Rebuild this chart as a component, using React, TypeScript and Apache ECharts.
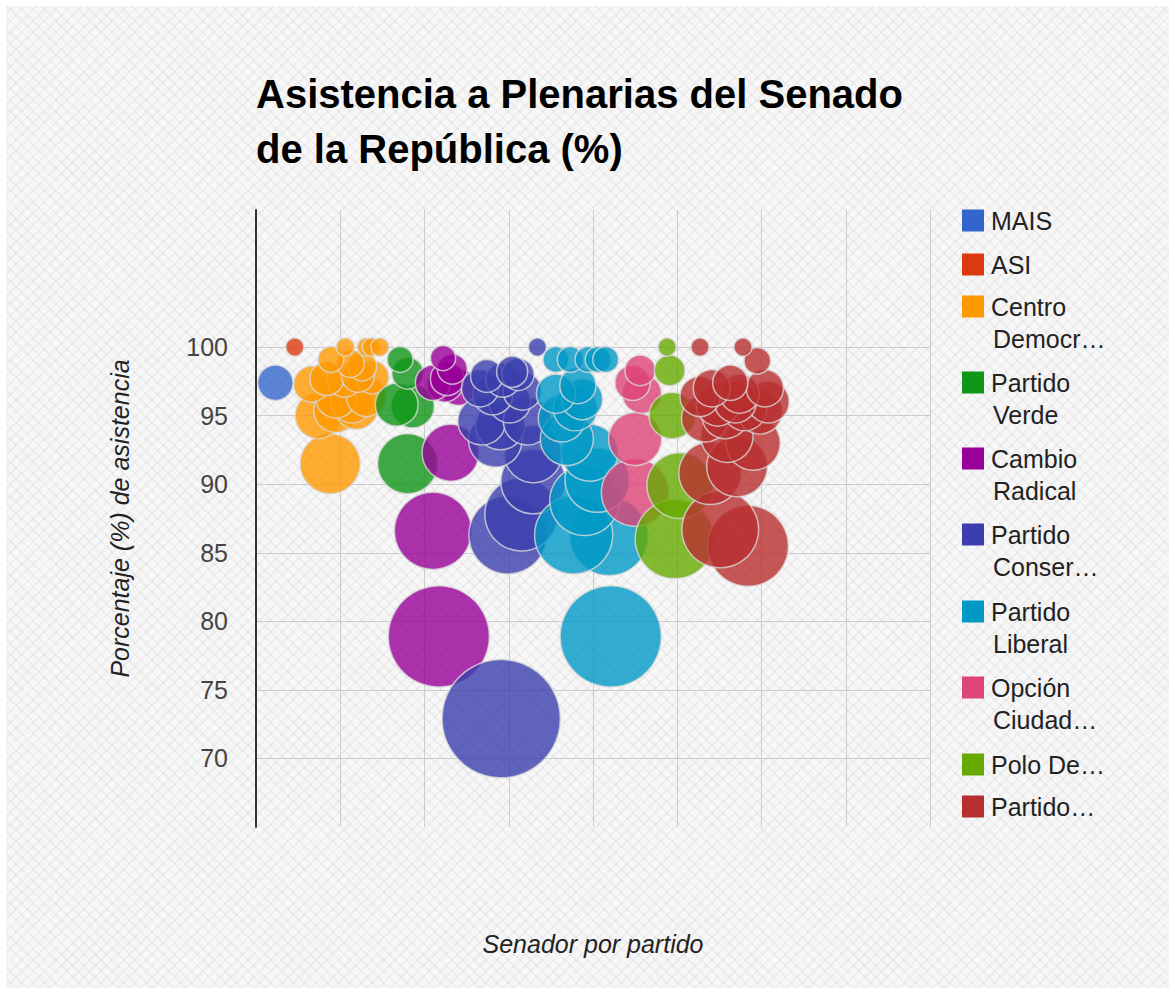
import React, { useEffect, useRef } from "react";
import * as echarts from "echarts";

const TITLE = "Asistencia a Plenarias del Senado\nde la República (%)";
const X_TITLE = "Senador por partido";
const Y_TITLE = "Porcentaje (%) de asistencia";

const PARTIES = [
  "MAIS",
  "ASI",
  "Centro Democrático",
  "Partido Verde",
  "Cambio Radical",
  "Partido Conservador",
  "Partido Liberal",
  "Opción Ciudadana",
  "Polo Democrático",
  "Partido de la U",
];

const LEGEND_LINES = [
  ["MAIS"],
  ["ASI"],
  ["Centro", "Democr…"],
  ["Partido", "Verde"],
  ["Cambio", "Radical"],
  ["Partido", "Conser…"],
  ["Partido", "Liberal"],
  ["Opción", "Ciudad…"],
  ["Polo De…"],
  ["Partido…"],
];

const COLORS = [
  "#3366cc",
  "#dc3912",
  "#ff9900",
  "#109618",
  "#990099",
  "#3b3eac",
  "#0099c6",
  "#dd4477",
  "#66aa00",
  "#b82e2e",
];

// [senator position, attendance %]
const MAIS = [[2.3, 97.4]];
const ASI = [[4.6, 100]];
const CENTRO_DEMOCRATICO = [
  [10.6, 100], [13.1, 100], [13.7, 100], [14.7, 100],
  [8.9, 99.1], [11.2, 98.8], [12.6, 98.6],
  [8.4, 97.7], [10.5, 97.6], [12.1, 97.9], [13.8, 97.8],
  [6.6, 97.3], [9.5, 96.3], [11.4, 96.0], [13.1, 96.4],
  [7.4, 95.0], [9.5, 95.4], [11.9, 95.6],
  [8.8, 91.5],
];
const PARTIDO_VERDE = [
  [17.1, 99.1], [18.0, 98.1], [16.7, 95.8], [18.6, 95.7], [18.0, 91.5],
];
const CAMBIO_RADICAL = [
  [22.2, 99.2], [23.3, 98.4], [21.0, 97.4], [22.7, 97.7], [24.0, 97.1],
  [22.4, 97.3], [23.1, 92.3], [21.0, 86.6], [21.7, 78.9],
];
const PARTIDO_CONSERVADOR = [
  [33.4, 100], [27.4, 97.9], [29.3, 97.6], [30.4, 98.2], [31.1, 98.0],
  [26.6, 97.0], [28.1, 96.5], [30.1, 96.0], [31.6, 96.8], [26.8, 94.6],
  [29.0, 94.3], [32.2, 94.6], [28.4, 93.2], [32.9, 92.2], [32.9, 90.2],
  [31.5, 87.8], [29.9, 86.3], [29.1, 72.9],
];
const PARTIDO_LIBERAL = [
  [35.6, 99.1], [37.3, 99.1], [39.4, 99.1], [40.6, 99.1], [41.5, 99.1],
  [35.6, 96.6], [38.2, 97.2], [38.7, 96.2], [36.3, 94.8], [36.9, 93.3],
  [39.6, 92.3], [40.5, 90.3], [39.0, 88.8], [41.9, 86.2], [37.7, 86.3],
  [42.1, 78.9], [37.9, 95.5],
];
const OPCION_CIUDADANA = [
  [45.6, 98.3], [44.7, 97.4], [45.8, 96.6], [45.0, 93.3], [45.0, 89.4],
];
const POLO_DEMOCRATICO = [
  [48.8, 100], [49.1, 98.3], [49.4, 95.0], [50.3, 89.9], [49.7, 86.0],
];
const PARTIDO_DE_LA_U = [
  [52.7, 100], [57.8, 100], [59.5, 99.0], [52.7, 96.4], [54.8, 95.8],
  [56.3, 97.4], [57.4, 96.6], [60.4, 97.0], [60.8, 96.0], [53.3, 94.8],
  [55.7, 95.0], [58.0, 95.5], [59.0, 93.0], [57.1, 91.3], [53.9, 90.8],
  [55.1, 86.7], [58.4, 85.5], [56.9, 96.0], [54.1, 97.0], [59.8, 95.3],
  [55.9, 93.5],
];

const SERIES_DATA = [
  MAIS, ASI, CENTRO_DEMOCRATICO, PARTIDO_VERDE, CAMBIO_RADICAL,
  PARTIDO_CONSERVADOR, PARTIDO_LIBERAL, OPCION_CIUDADANA, POLO_DEMOCRATICO,
  PARTIDO_DE_LA_U,
];

const Y_TICKS_SHOWN = [70, 75, 80, 85, 90, 95, 100];

const FONT = 'Arial, "Liberation Sans", sans-serif';

export default function App() {
  const ref = useRef<HTMLDivElement>(null);

  useEffect(() => {
    document.body.style.margin = "0";
    if (!ref.current) return;
    const chart = echarts.init(ref.current, undefined, { renderer: "svg" });

    const bubble = (v: number[]) =>
      2 * (9 + 4.22 * Math.pow(Math.max(0, 100 - v[1]), 0.75));

    const legendTops = [209, 253, 295, 371, 447, 523, 600, 676, 753, 795];

    const legends = PARTIES.map((name, i) => ({
      data: [name],
      left: 957,
      top: legendTops[i] - 6,
      orient: "vertical",
      icon: "rect",
      itemWidth: 22,
      itemHeight: 22,
      selectedMode: false,
      itemStyle: { opacity: 1, borderWidth: 0 },
      formatter: () => LEGEND_LINES[i][0],
      textStyle: {
        fontSize: 25,
        color: "#222",
        fontFamily: FONT,
        padding: [0, 0, 0, 2],
      },
    }));

    const secondLines: any[] = [];
    LEGEND_LINES.forEach((lines, i) => {
      if (lines.length > 1) {
        secondLines.push({
          type: "text",
          left: 993,
          top: legendTops[i] + 11 + 34 - 14,
          style: {
            text: lines[1],
            fontSize: 25,
            fill: "#222",
            fontFamily: FONT,
          },
        });
      }
    });

    const yLineColors = [
      "rgba(0,0,0,0)", "#cccccc", "#cccccc", "#cccccc", "#cccccc",
      "#cccccc", "#cccccc", "#cccccc", "rgba(0,0,0,0)", "rgba(0,0,0,0)",
    ];

    chart.setOption({
      animation: false,
      backgroundColor: "transparent",
      title: {
        text: TITLE,
        left: 251,
        top: 61,
        textStyle: {
          fontSize: 40,
          fontWeight: "bold",
          color: "#000",
          fontFamily: FONT,
          lineHeight: 55,
        },
      },
      legend: legends,
      graphic: secondLines,
      grid: { left: 256, right: 245, top: 210, bottom: 167, containLabel: false },
      xAxis: {
        type: "value",
        min: 0,
        max: 80,
        interval: 10,
        name: X_TITLE,
        nameLocation: "middle",
        nameGap: 104,
        nameTextStyle: {
          fontSize: 25,
          fontStyle: "italic",
          color: "#222",
          fontFamily: FONT,
        },
        axisLine: { show: false },
        axisTick: { show: false },
        axisLabel: { show: false },
        splitLine: { show: true, lineStyle: { color: "#cccccc", width: 1 } },
      },
      yAxis: {
        type: "value",
        min: 65,
        max: 110,
        interval: 5,
        name: Y_TITLE,
        nameLocation: "middle",
        nameGap: 124,
        nameRotate: 90,
        nameTextStyle: {
          fontSize: 25,
          fontStyle: "italic",
          color: "#222",
          fontFamily: FONT,
        },
        axisLine: { show: true, lineStyle: { color: "#333", width: 2 } },
        axisTick: { show: false },
        axisLabel: {
          margin: 28,
          fontSize: 25,
          color: "#444",
          fontFamily: FONT,
          formatter: (v: number) => (Y_TICKS_SHOWN.includes(v) ? String(v) : ""),
        },
        splitLine: {
          show: true,
          showMinLine: true,
          showMaxLine: true,
          lineStyle: { color: yLineColors, width: 1 },
        },
      },
      series: PARTIES.map((name, i) => ({
        name,
        type: "scatter",
        data: [...SERIES_DATA[i]].sort((a, b) => a[1] - b[1]),
        symbolSize: bubble,
        itemStyle: {
          color: COLORS[i],
          opacity: 0.8,
          borderColor: "#d8d8d8",
          borderWidth: 1.5,
        },
        emphasis: { disabled: true },
      })),
    });

    return () => chart.dispose();
  }, []);

  return (
    <div style={{ position: "relative", width: 1175, height: 994, background: "#fff" }}>
      <div
        style={{
          position: "absolute",
          left: 6,
          top: 6,
          right: 6,
          bottom: 6,
          backgroundColor: "#f7f7f7",
          backgroundImage:
            "repeating-linear-gradient(45deg, rgba(0,0,0,0) 0px, rgba(0,0,0,0) 6px, rgba(0,0,0,0.035) 6px, rgba(0,0,0,0.035) 8px), repeating-linear-gradient(-45deg, rgba(0,0,0,0) 0px, rgba(0,0,0,0) 6px, rgba(0,0,0,0.035) 6px, rgba(0,0,0,0.035) 8px)",
        }}
      />
      <div
        ref={ref}
        style={{ position: "absolute", left: 0, top: 0, width: 1175, height: 994 }}
      />
    </div>
  );
}
